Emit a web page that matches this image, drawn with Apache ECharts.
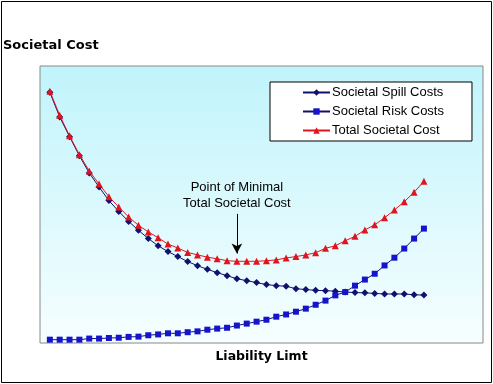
<!DOCTYPE html>
<html>
<head>
<meta charset="utf-8">
<script src="https://cdn.jsdelivr.net/npm/echarts@6/dist/echarts.min.js"></script>
<style>
html,body{margin:0;padding:0;background:#fff;}
#chart{width:493px;height:384px;}
</style>
</head>
<body>
<div id="chart"></div>
<script>
// Liability limit steps (categories, 1-based)
const limits = [1,2,3,4,5,6,7,8,9,10,11,12,13,14,15,16,17,18,19,20,21,22,23,24,25,26,27,28,29,30,31,32,33,34,35,36,37,38,39];
const spillCosts = [90.5,81.6,74.5,67.6,61.4,56.3,51.4,47.5,43.9,40.7,37.7,35.1,33.0,31.2,29.4,27.9,26.6,25.4,24.3,23.2,22.5,21.8,21.1,20.7,20.5,19.6,19.3,19.0,18.9,18.7,18.4,18.2,18.1,17.9,17.7,17.7,17.7,17.4,17.3];
const riskCosts = [1.2,1.2,1.2,1.2,1.6,1.6,1.8,1.9,2.2,2.3,2.8,3.1,3.5,3.5,3.9,4.2,4.8,5.2,5.5,6.3,7.0,7.7,8.4,9.5,10.3,11.3,12.4,13.8,15.3,17.2,18.4,20.7,22.9,25.0,28.0,30.8,34.1,37.7,41.3];
const totalCosts = [90.9,82.2,74.8,68.0,62.1,57.4,52.8,49.1,45.5,42.5,40.1,38.0,35.7,34.3,32.7,31.8,31.0,30.4,29.7,29.5,29.5,29.5,29.7,30.0,30.7,31.2,31.8,32.6,34.2,35.1,36.9,38.5,40.8,42.7,45.2,48.0,51.0,54.4,58.4];
const seriesNames = ['Societal Spill Costs','Societal Risk Costs','Total Societal Cost'];
const annotationText = 'Point of Minimal\nTotal Societal Cost';
const minLimit = 20;          // category of the minimum total cost
const annotationTextY = 53.4; // value-level of annotation text centre
const arrowStartY = 46.6;
const arrowEndY = 32.3;

const pairs = arr => arr.map((v, i) => [limits[i], v]);

const chart = echarts.init(document.getElementById('chart'), null, {renderer: 'canvas'});
chart.setOption({
  animation: false,
  backgroundColor: '#fff',
  title: {
    text: 'Societal Cost',
    left: 3, top: 39,
    padding: 0,
    textStyle: {fontFamily: 'DejaVu Sans', fontWeight: 'bold', fontSize: 13, color: '#000'}
  },
  graphic: [{
    type: 'rect', silent: true, z: 100,
    shape: {x: 1.5, y: 1.5, width: 490, height: 381},
    style: {fill: null, stroke: '#000', lineWidth: 1}
  }],
  grid: {
    left: 40, right: 10, top: 66, bottom: 41,
    show: true,
    borderColor: '#888', borderWidth: 1,
    backgroundColor: new echarts.graphic.LinearGradient(0, 0, 0, 1, [
      {offset: 0, color: '#c0f4fb'},
      {offset: 1, color: '#f6feff'}
    ])
  },
  legend: {
    orient: 'vertical',
    left: 270, top: 82,
    data: seriesNames,
    backgroundColor: '#fff',
    borderColor: '#000', borderWidth: 1, borderRadius: 0,
    padding: [4, 28, 4, 32],
    itemWidth: 27, itemHeight: 8, itemGap: 6,
    textStyle: {fontFamily: 'Liberation Sans', fontSize: 13, color: '#000', padding: [0,0,0,-3]}
  },
  xAxis: {
    type: 'value', min: 0, max: 45,
    name: 'Liability Limt',
    nameLocation: 'middle', nameGap: 7,
    nameTextStyle: {fontFamily: 'DejaVu Sans', fontWeight: 'bold', fontSize: 12.5, color: '#000'},
    axisLine: {show: false}, axisTick: {show: false}, axisLabel: {show: false}, splitLine: {show: false}
  },
  yAxis: {
    type: 'value', min: 0, max: 100,
    axisLine: {show: false}, axisTick: {show: false}, axisLabel: {show: false}, splitLine: {show: false}
  },
  series: [
    {
      name: seriesNames[0], type: 'line', data: pairs(spillCosts),
      symbol: 'diamond', symbolSize: 7,
      lineStyle: {color: '#10106e', width: 1},
      itemStyle: {color: '#10106e'}
    },
    {
      name: seriesNames[1], type: 'line', data: pairs(riskCosts),
      symbol: 'rect', symbolSize: 6,
      lineStyle: {color: '#10106e', width: 1},
      itemStyle: {color: '#1414cc'}
    },
    {
      name: seriesNames[2], type: 'line', data: pairs(totalCosts),
      symbol: 'triangle', symbolSize: 7,
      lineStyle: {color: '#e0141e', width: 1},
      itemStyle: {color: '#e0141e'},
      markPoint: {
        symbol: 'circle', symbolSize: 0, silent: true,
        data: [{coord: [minLimit, annotationTextY]}],
        label: {
          show: true, position: 'inside', formatter: annotationText,
          fontFamily: 'Liberation Sans', fontSize: 13, lineHeight: 16, color: '#000', align: 'center'
        }
      },
      markLine: {
        silent: true,
        symbol: ['none', 'arrow'], symbolSize: [8, 10],
        label: {show: false},
        lineStyle: {color: '#000', width: 1, type: 'solid'},
        data: [[{coord: [minLimit, arrowStartY]}, {coord: [minLimit, arrowEndY]}]]
      }
    }
  ]
});
</script>
</body>
</html>
